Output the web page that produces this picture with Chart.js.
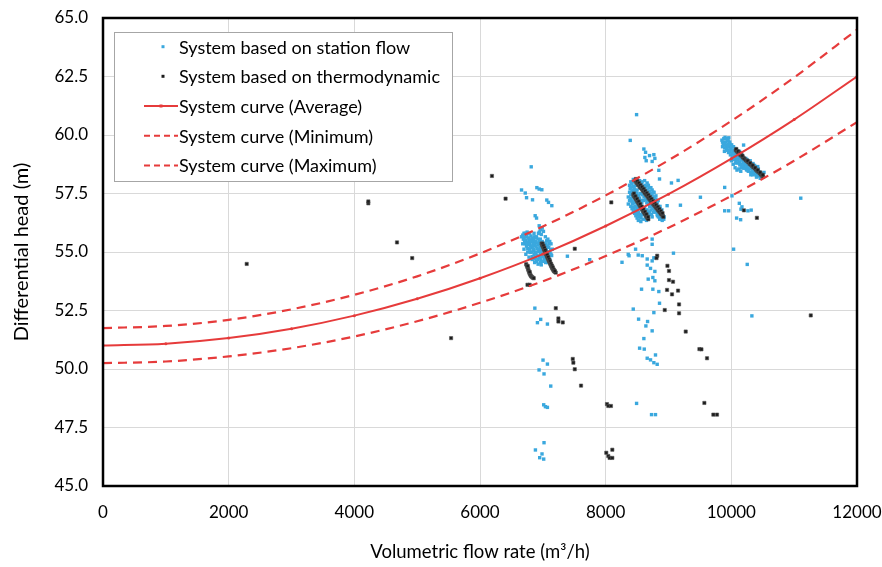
<!DOCTYPE html>
<html><head><meta charset="utf-8">
<script src="https://cdn.jsdelivr.net/npm/chart.js@4.4.1/dist/chart.umd.min.js"></script>
<style>html,body{margin:0;padding:0;background:#fff;}#wrap{width:882px;height:567px;}</style>
</head><body><div id="wrap"><canvas id="c" width="882" height="567"></canvas></div>
<script>
const FONT = 'Lato, "Open Sans", sans-serif';
const xTicks = [0, 2000, 4000, 6000, 8000, 10000, 12000];
const yTicks = [45, 47.5, 50, 52.5, 55, 57.5, 60, 62.5, 65];
const seriesLabels = ['System based on station flow', 'System based on thermodynamic',
  'System curve (Average)', 'System curve (Minimum)', 'System curve (Maximum)'];

// system curves, read every 1000 m3/h
const curveQ = [0,1000,2000,3000,4000,5000,6000,7000,8000,9000,10000,11000,12000];
const avgH = [51.00,51.08,51.32,51.72,52.28,53.00,53.88,54.91,56.11,57.47,58.99,60.66,62.50];
const minH = [50.25,50.32,50.54,50.89,51.39,52.04,52.83,53.75,54.83,56.04,57.40,58.90,60.55];
const maxH = [51.75,51.84,52.10,52.55,53.17,53.96,54.94,56.09,57.42,58.92,60.60,62.46,64.50];

// station-flow points [Q, H]
const stationCluster7000 = [[6680,55.72],[6700,55.58],[6715,55.65],[6730,55.50],[6745,55.70],[6760,55.42],[6770,55.60],[6785,55.33],[6790,55.52],[6800,55.25],[6810,55.68],[6820,55.44],[6830,55.18],[6835,55.58],[6845,55.36],[6855,55.05],[6860,55.50],[6870,55.28],[6880,54.95],[6885,55.62],[6895,55.40],[6905,55.15],[6910,54.85],[6920,55.55],[6925,55.30],[6935,55.02],[6940,54.75],[6950,55.45],[6955,55.20],[6965,54.92],[6970,54.66],[6975,55.75],[6985,55.10],[6990,54.82],[7000,55.40],[7005,54.60],[7015,55.05],[7020,54.78],[7030,55.30],[7040,54.90],[7045,54.55],[7055,55.15],[7065,54.70],[7075,55.00],[7085,54.80],[7095,55.20],[7105,54.62],[7115,54.95],[7125,55.10],[6960,55.95],[6990,56.02],[6945,55.85],[7010,55.88],[6720,55.35],[6760,55.15],[6800,54.98],[6830,54.80],[6865,54.70],[6900,54.60],[6700,55.80],[6750,55.85],[7140,54.85],[7060,55.48],[7100,55.35],[6925,54.48],[6975,54.45],
 [6720,55.80],[6790,55.80],[6860,55.80],[6930,55.80],[6660,55.65],[6740,55.65],[6860,55.65],[6900,55.65],[7040,55.65],[6690,55.55],[6780,55.55],[6960,55.55],[7080,55.55],[6710,55.45],[6800,55.45],[6880,55.45],[6990,55.45],[7110,55.45],[6680,55.35],[6770,55.35],[6850,55.35],[6930,55.35],[7050,55.35],[7130,55.35],[6740,55.25],[6830,55.25],[6890,55.25],[6980,55.25],[7070,55.25],[6700,55.12],[6790,55.12],[6850,55.12],[6950,55.12],[7030,55.12],[7150,55.12],[6760,55.00],[6820,55.00],[6900,55.00],[6970,55.00],[7100,55.00],[6730,54.90],[6860,54.90],[7000,54.90],[7130,54.90],[6780,54.78],[6880,54.78],[6960,54.78],[7070,54.78],[6830,54.68],[6920,54.68],[7030,54.68],[7110,54.68],[6870,54.55],[6960,54.55],[7080,54.55]];
const stationCluster8600 = [[8390,57.70],[8400,57.45],[8405,57.20],[8415,57.90],[8420,57.60],[8425,57.05],[8435,57.35],[8440,57.80],[8445,56.90],[8455,57.55],[8460,58.05],[8465,57.15],[8470,56.80],[8480,57.85],[8485,57.40],[8490,56.70],[8500,57.65],[8505,57.00],[8510,56.60],[8520,57.95],[8525,57.25],[8530,56.50],[8540,57.75],[8545,56.85],[8555,57.50],[8560,56.45],[8570,57.95],[8575,57.10],[8585,56.65],[8595,57.70],[8600,56.40],[8610,57.35],[8620,56.90],[8625,57.85],[8635,56.55],[8645,57.55],[8655,57.10],[8660,57.95],[8670,56.70],[8680,57.35],[8690,57.75],[8700,56.95],[8710,57.50],[8720,57.15],[8730,56.60],[8740,57.65],[8750,56.85],[8760,57.30],[8770,57.55],[8780,56.75],[8790,57.05],[8800,57.40],[8815,56.90],[8825,56.55],[8835,57.20],[8850,56.70],[8865,56.95],[8880,56.45],[8895,56.80],[8910,56.55],[8925,56.40],[8650,56.35],[8560,56.30],[8470,56.95],[8440,57.10],
 [8360,57.35],[8360,57.05],[8380,57.85],[8380,57.55],[8380,57.20],[8400,58.00],[8400,57.75],[8400,57.30],[8400,56.95],[8420,57.95],[8420,57.50],[8420,57.15],[8420,56.85],[8440,58.10],[8440,57.65],[8440,56.75],[8460,57.70],[8460,57.30],[8460,56.65],[8480,57.60],[8480,57.10],[8480,56.55],[8500,58.10],[8500,57.50],[8500,56.85],[8500,56.45],[8520,57.40],[8520,56.70],[8520,56.35],[8540,58.05],[8540,57.30],[8540,56.60],[8560,57.85],[8560,57.20],[8560,56.55],[8580,58.00],[8580,57.45],[8580,56.80],[8600,57.80],[8600,57.20],[8600,56.60],[8620,58.05],[8620,57.70],[8620,56.75],[8640,57.80],[8640,57.25],[8640,56.50],[8660,57.65],[8660,57.20],[8660,56.80],[8680,57.85],[8680,57.10],[8680,56.55],[8700,57.60],[8700,57.00],[8700,56.70],[8720,57.75],[8720,57.35],[8720,56.80],[8740,57.45],[8740,56.95],[8740,56.50],[8760,57.55],[8760,57.15],[8760,56.70],[8780,57.35],[8780,56.90],[8800,57.25],[8800,56.70],[8820,57.10],[8820,56.60],[8840,56.95],[8840,56.50],[8860,56.85],[8860,56.40],[8880,56.70],[8900,56.62],[8900,56.35],[8930,56.50]];
const stationCluster10200 = [[9850,59.78],[9870,59.60],[9880,59.85],[9895,59.45],[9905,59.70],[9915,59.55],[9925,59.35],[9935,59.82],[9945,59.62],[9955,59.25],[9965,59.48],[9975,59.70],[9985,59.15],[9995,59.40],[10005,59.58],[10015,59.05],[10025,59.30],[10035,59.50],[10045,58.95],[10055,59.20],[10065,59.42],[10075,58.88],[10085,59.12],[10095,59.32],[10110,58.80],[10120,59.05],[10135,58.72],[10150,58.98],[10160,59.20],[10175,58.65],[10185,58.90],[10200,58.58],[10215,58.82],[10230,59.00],[10240,58.52],[10255,58.75],[10270,58.45],[10285,58.68],[10300,58.90],[10315,58.40],[10330,58.60],[10345,58.78],[10360,58.35],[10375,58.55],[10390,58.30],[10405,58.48],[10420,58.65],[10435,58.25],[10450,58.42],[10465,58.20],[10480,58.35],[10500,58.25],[10520,58.40],[9900,59.90],[9960,59.88],[10130,59.30],[10180,59.10],[10250,58.95],
 [9860,59.70],[9860,59.50],[9890,59.60],[9890,59.30],[9920,59.85],[9920,59.45],[9950,59.75],[9950,59.55],[9950,59.35],[9980,59.60],[9980,59.30],[10010,59.50],[10010,59.20],[10010,58.95],[10040,59.35],[10040,59.10],[10070,59.25],[10070,59.00],[10070,58.80],[10100,59.15],[10100,58.95],[10130,59.05],[10130,58.85],[10160,58.95],[10160,58.75],[10160,58.60],[10190,58.85],[10190,58.70],[10220,58.75],[10220,58.60],[10250,58.65],[10250,58.50],[10280,58.55],[10280,58.85],[10310,58.55],[10310,58.30],[10340,58.45],[10340,58.30],[10370,58.40],[10370,58.70],[10400,58.35],[10400,58.20],[10430,58.30],[10430,58.55],[10460,58.30],[10460,58.15],[10490,58.20],[10000,58.90],[10030,58.75],[10060,58.60],[10090,58.50],[10120,58.55],[10150,58.45]];
const stationScatter = [[6815,58.64],[6661,57.65],[6720,57.52],[6741,57.32],[6836,57.23],[6905,57.75],[6942,57.69],[6984,57.66],[7063,57.22],[7090,57.12],[7143,56.98],[6878,56.55],[6900,56.45],[6942,56.12],[7391,54.82],[7746,54.67],[6873,52.60],[6914,51.98],[6966,52.12],[7073,51.92],[7003,50.38],[7073,50.21],[6940,49.96],[7019,49.79],[7126,49.27],[7014,48.47],[7041,48.39],[7073,48.36],[7019,46.85],[6882,46.54],[6987,46.37],[6950,46.21],[7014,46.15],
 [8492,60.87],[8391,59.77],[8608,59.40],[8635,59.26],[8624,59.04],[8645,58.90],[8698,59.12],[8767,59.16],[8783,59.00],[8740,58.87],[8846,58.49],[8857,58.12],[9047,57.95],[9153,58.06],[9190,57.00],[8978,56.98],[9508,57.34],[8260,54.56],[8359,54.90],[8372,54.84],[8476,55.12],[8518,54.87],[8582,54.84],[8661,54.70],[8740,54.62],[8767,54.75],[9079,54.95],[8740,55.55],[8740,55.33],[8661,54.44],[8714,54.30],[8783,54.17],[8751,53.91],[8783,53.77],[8677,53.84],[8571,53.41],[8751,53.41],[8846,53.31],[8857,52.81],[8767,52.41],[8439,52.56],[8524,52.13],[8667,52.03],[8640,51.84],[8740,51.63],[8608,51.30],[8540,50.89],[8614,50.85],[8661,50.46],[8714,50.39],[8767,50.27],[8820,50.20],[8793,50.60],[8492,48.53],[8730,48.05],[8793,48.05],
 [10195,59.57],[9894,57.76],[10010,57.40],[10127,57.08],[10169,56.93],[10153,56.83],[10264,56.76],[10316,56.79],[9894,56.76],[9958,56.76],[10084,56.45],[10148,56.38],[10036,55.12],[10253,54.47],[10327,52.27],[11105,57.30]];

// thermodynamic points [Q, H]
const thermoCluster7000 = [[6980,55.36],[6990,55.30],[6998,55.25],[7006,55.21],[7014,55.14],[7022,55.10],[7030,55.05],[7038,54.99],[7046,54.95],[7054,54.90],[7062,54.84],[7070,54.80],[7078,54.75],[7086,54.70],[7094,54.64],[7102,54.60],[7110,54.55],[7118,54.50],[7126,54.45],[7134,54.40],[7142,54.36],[7150,54.31],[7160,54.26],[7170,54.21],[7180,54.18],[7192,54.15],[7205,54.12],[6995,55.36],[7010,55.27],[7025,55.18],[7040,55.08],[7055,54.98],[7070,54.88],[7085,54.78],[7100,54.68],[7115,54.60],[7130,54.50],[7145,54.42],[7160,54.34],[7175,54.25],[7190,54.19],
 [6735,54.48],[6745,54.42],[6755,54.35],[6765,54.28],[6772,54.22],[6780,54.16],[6788,54.10],[6796,54.05],[6805,54.00],[6815,53.96],[6828,53.93],[6842,53.90],[6855,53.88],[6760,54.40],[6790,54.15]];
const thermoCluster8600 = [[8470,58.05],[8485,57.99],[8500,57.94],[8515,57.88],[8530,57.84],[8545,57.78],[8560,57.74],[8575,57.69],[8590,57.63],[8605,57.59],[8620,57.53],[8635,57.48],[8650,57.43],[8665,57.38],[8680,57.32],[8695,57.27],[8710,57.22],[8725,57.16],[8740,57.12],[8755,57.06],[8770,57.01],[8785,56.96],[8800,56.90],[8815,56.86],[8830,56.80],[8845,56.75],[8860,56.70],[8875,56.64],[8890,56.60],[8905,56.54],[8918,56.50],[8480,58.12],[8505,58.03],[8530,57.95],[8555,57.86],[8580,57.78],[8605,57.70],[8630,57.61],[8655,57.52],[8680,57.44],[8705,57.35],[8730,57.27],[8755,57.18],[8780,57.10],[8805,57.01],[8830,56.93],[8855,56.84],[8880,56.75],[8905,56.66],
 [8440,57.45],[8452,57.39],[8464,57.34],[8476,57.29],[8488,57.24],[8500,57.18],[8512,57.13],[8524,57.08],[8536,57.02],[8548,56.97],[8560,56.92],[8572,56.86],[8584,56.81],[8596,56.76],[8608,56.70],[8620,56.65],[8632,56.60],[8644,56.55],[8656,56.49],[8668,56.44],[8680,56.40],[8450,57.50],[8475,57.38],[8500,57.27],[8525,57.16],[8550,57.05],[8575,56.94],[8600,56.83],[8625,56.72],[8650,56.61],[8675,56.50]];
const thermoCluster10200 = [[10070,59.36],[10085,59.31],[10100,59.27],[10115,59.24],[10130,59.19],[10145,59.15],[10160,59.12],[10180,59.05],[10195,59.02],[10210,58.98],[10230,58.92],[10250,58.88],[10270,58.83],[10290,58.77],[10310,58.73],[10330,58.68],[10350,58.62],[10370,58.58],[10390,58.52],[10410,58.47],[10430,58.42],[10450,58.37],[10470,58.31],[10490,58.26],[10505,58.22],[10080,59.40],[10110,59.30],[10140,59.22],[10175,59.12],[10260,58.90],[10300,58.80],[10340,58.70],[10380,58.60],[10420,58.50],[10460,58.40],[10500,58.30]];
const thermoScatter = [[6190,58.25],[6407,57.28],[4921,54.74],[5540,51.32],[7508,55.14],[8090,57.12],[6756,53.60],[6790,53.60],[7206,52.60],[7248,52.16],[7248,52.03],[7317,51.99],[7476,50.43],[7486,50.27],[7508,49.99],[7608,49.29],[8021,48.50],[8042,48.42],[8084,48.42],[8010,46.42],[8042,46.28],[8063,46.20],[8106,46.20],[8106,46.55],[8820,54.84],[8809,54.74],[8983,54.41],[9008,54.19],[9008,53.80],[9072,53.73],[8977,53.38],[9056,53.19],[9152,53.35],[9168,52.76],[9168,52.38],[8940,52.52],[9274,51.60],[9492,50.85],[9524,50.84],[9613,50.46],[9571,48.55],[9714,48.05],[9772,48.05],[10200,56.78],[10407,56.46],[11264,52.29],[2287,54.49],[4223,57.08],[4223,57.16],[4679,55.41]];

const toXY = arr => arr.map(p => ({x: p[0], y: p[1]}));
const curveXY = hs => curveQ.map((q, i) => ({x: q, y: hs[i]}));

const RED = '#E63B3B', BLUE = '#3AA8DE', BLACK = '#1c1c1c';

const frameAndLegend = {
  id: 'frameAndLegend',
  afterDraw(chart) {
    const {ctx, chartArea: a} = chart;
    ctx.save();
    ctx.strokeStyle = '#000'; ctx.lineWidth = 2.5;
    ctx.strokeRect(a.left, a.top, a.right - a.left, a.bottom - a.top);
    // legend box
    ctx.fillStyle = '#fff';
    ctx.fillRect(114.5, 32.5, 338, 149);
    ctx.strokeStyle = '#a6a6a6'; ctx.lineWidth = 1;
    ctx.strokeRect(114.5, 32.5, 338, 149);
    const rows = [46.7, 76.3, 106, 135.7, 165.4];
    ctx.font = '18px ' + FONT;
    ctx.textBaseline = 'middle'; ctx.textAlign = 'left';
    seriesLabels.forEach((lab, i) => {
      const y = rows[i];
      if (i === 0 || i === 1) {
        ctx.fillStyle = i === 0 ? BLUE : BLACK;
        ctx.fillRect(161.5, y - 1.5, 3, 3);
      } else {
        ctx.strokeStyle = RED; ctx.lineWidth = 2;
        ctx.setLineDash(i === 2 ? [] : [6, 4]);
        ctx.beginPath(); ctx.moveTo(144, y); ctx.lineTo(178, y); ctx.stroke();
        ctx.setLineDash([]);
        if (i === 2) { ctx.fillStyle = RED; ctx.fillRect(159.5, y - 1.5, 3, 3); }
      }
      ctx.fillStyle = '#000';
      ctx.fillText(lab, 179, y + 1);
    });
    ctx.restore();
  }
};

new Chart(document.getElementById('c'), {
  type: 'scatter',
  data: {
    datasets: [
      {label: seriesLabels[2], data: curveXY(avgH), showLine: true, borderColor: RED, backgroundColor: RED,
       borderWidth: 2, pointRadius: 1.5, pointBorderWidth: 0, cubicInterpolationMode: 'monotone', order: 0},
      {label: seriesLabels[3], data: curveXY(minH), showLine: true, borderColor: RED, backgroundColor: RED,
       borderWidth: 2.2, borderDash: [9, 6], pointRadius: 0, cubicInterpolationMode: 'monotone', order: 1},
      {label: seriesLabels[4], data: curveXY(maxH), showLine: true, borderColor: RED, backgroundColor: RED,
       borderWidth: 2.2, borderDash: [9, 6], pointRadius: 0, cubicInterpolationMode: 'monotone', order: 2},
      {label: seriesLabels[1], data: toXY([...thermoCluster7000, ...thermoCluster8600, ...thermoCluster10200, ...thermoScatter]),
       pointStyle: 'rect', pointRadius: 2.3, backgroundColor: BLACK, borderColor: '#555', borderWidth: 0.6, order: 3},
      {label: seriesLabels[0], data: toXY([...stationCluster7000, ...stationCluster8600, ...stationCluster10200, ...stationScatter]),
       pointStyle: 'rect', pointRadius: 2.4, backgroundColor: BLUE, borderWidth: 0, order: 4}
    ]
  },
  options: {
    responsive: false, animation: false, devicePixelRatio: 1,
    layout: {padding: {left: 0, top: 18, right: 25, bottom: 0}},
    plugins: {legend: {display: false}, tooltip: {enabled: false}},
    scales: {
      x: {
        type: 'linear', min: 0, max: 12000,
        afterBuildTicks: s => { s.ticks = xTicks.map(v => ({value: v})); },
        afterFit: s => { s.height = 81; s.paddingLeft = 0; s.paddingRight = 0; },
        grid: {color: '#d9d9d9', lineWidth: 1, drawTicks: false},
        border: {display: false},
        ticks: {padding: 16, color: '#000', font: {family: FONT, size: 17}, maxRotation: 0, callback: v => String(v)},
        title: {display: true, text: 'Volumetric flow rate (m³/h)', color: '#000', font: {family: FONT, size: 18.5}, padding: {top: 0, bottom: 4}}
      },
      y: {
        type: 'linear', min: 45, max: 65,
        afterBuildTicks: s => { s.ticks = yTicks.map(v => ({value: v})); },
        afterFit: s => { s.width = 103; s.paddingTop = 0; s.paddingBottom = 0; },
        grid: {color: '#d9d9d9', lineWidth: 1, drawTicks: false},
        border: {display: false},
        ticks: {padding: 15, color: '#000', font: {family: FONT, size: 17}, callback: v => Number(v).toFixed(1)},
        title: {display: true, text: 'Differential head (m)', color: '#000', font: {family: FONT, size: 20}, padding: {top: 10, bottom: 0}}
      }
    }
  },
  plugins: [frameAndLegend]
});
</script></body></html>
